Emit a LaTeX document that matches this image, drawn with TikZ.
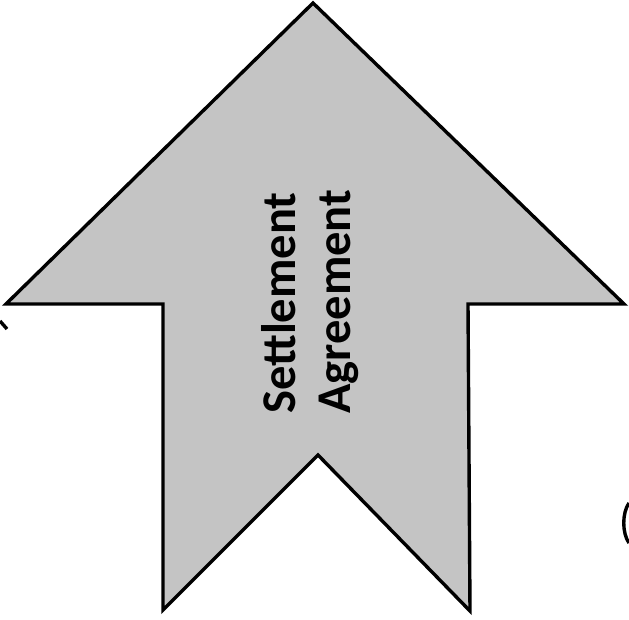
\documentclass[tikz,border=0pt]{standalone}
\usepackage{fontspec}
\setmainfont{Carlito}
\begin{document}
\begin{tikzpicture}[x=1pt,y=1pt,
  arrowshape/.style={draw=black, line width=3.4pt, line join=miter, fill=black!23},
  label/.style={font=\bfseries\fontsize{48.5}{55}\selectfont, rotate=90, anchor=base west, inner sep=0pt},
  frag/.style={draw=black, line width=3.4pt}]
\useasboundingbox (0,0) rectangle (629,619);
\coordinate (tip) at (313,616);
\coordinate (rc) at (624,315);
\coordinate (rs) at (468,315);
\coordinate (rb) at (470,8);
\coordinate (notch) at (318,164);
\coordinate (lb) at (163,9);
\coordinate (ls) at (163,315);
\coordinate (lc) at (6,315);
\path[arrowshape] (tip) -- (rc) -- (rs) -- (rb) -- (notch) -- (lb) -- (ls) -- (lc) -- cycle;
\node[label] (s1) at (295,205) {Settlement};
\node[label] (s2) at (350,205) {Agreement};
% fragments of neighbouring shapes at the edges
\coordinate (fa) at (0,298);
\coordinate (fb) at (7,290);
\draw[frag] (fa) -- (fb);
\coordinate (fc) at (629,116);
\coordinate (fd) at (629,76);
\draw[frag] (fc) .. controls (622,106) and (622,86) .. (fd);
\end{tikzpicture}
\end{document}
